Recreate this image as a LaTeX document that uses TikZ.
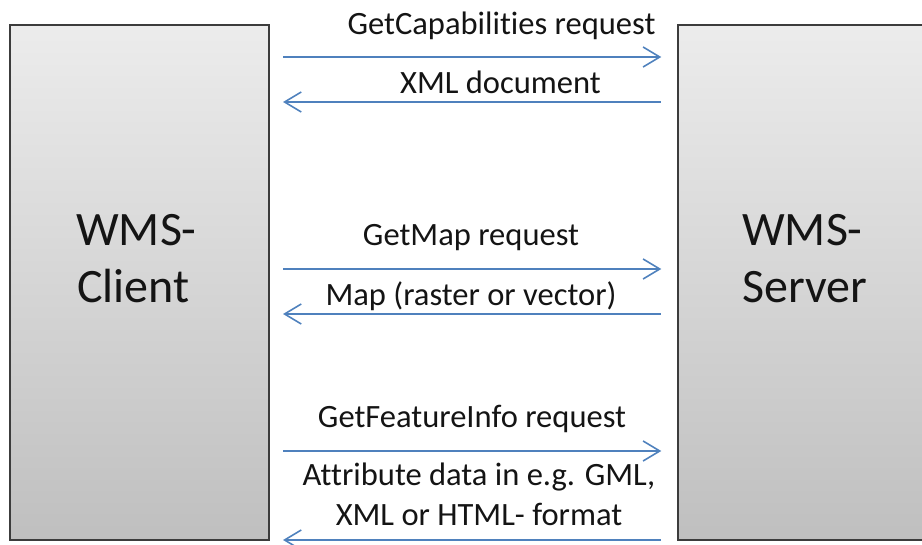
\documentclass[tikz,border=0pt]{standalone}
\usepackage{fontspec}
\setmainfont[Ligatures=NoCommon]{Carlito}
\usetikzlibrary{arrows.meta}
\definecolor{msgblue}{RGB}{79,129,189}
\definecolor{boxedge}{RGB}{60,60,60}
\definecolor{txtdark}{RGB}{20,20,20}

\begin{document}
\begin{tikzpicture}[x=0.75pt, y=-0.75pt,
    party/.style={draw=boxedge, line width=1.3pt, top color=gray!15, bottom color=gray!50,
                  minimum width=194pt, minimum height=386pt, inner sep=0pt},
    bigtxt/.style={anchor=base west, inner sep=0pt, text=txtdark, font=\fontsize{36}{43}\selectfont},
    lbl/.style={anchor=base, inner sep=0pt, text=txtdark, font=\fontsize{24.4}{29}\selectfont},
    msg/.style={draw=msgblue, line width=1.2pt, shorten <=10pt, shorten >=12pt},
    req/.style={msg, -{Straight Barb[length=12.5pt, width=15pt]}},
    resp/.style={msg, {Straight Barb[length=12.5pt, width=15pt]}-}]
    \useasboundingbox (0,0) rectangle (922,544);
    \clip (0,0) rectangle (922,544);

    % the two parties
    \node[party] (client) at (139.5,282.5) {};
    \node[party] (server) at (807.5,282.5) {};
    \node[bigtxt] (clientA) at (76,245) {WMS-};
    \node[bigtxt] (clientB) at (77,302) {Client};
    \node[bigtxt] (serverA) at (742,245) {WMS-};
    \node[bigtxt] (serverB) at (742,302) {Server};

    % message rows
    \coordinate (r1) at (0,57);
    \coordinate (r2) at (0,102);
    \coordinate (r3) at (0,269);
    \coordinate (r4) at (0,314);
    \coordinate (r5) at (0,451);
    \coordinate (r6) at (0,540);

    \node[lbl] (capreq) at (501.5,34) {GetCapabilities request};
    \node[lbl] (capdoc) at (500.5,93) {XML document};
    \node[lbl] (mapreq) at (471,245) {GetMap request};
    \node[lbl] (mapres) at (471,305) {Map (raster or vector)};
    \node[lbl] (inforeq) at (472,427) {GetFeatureInfo request};
    \node[lbl] (inforesA) at (479,485) {Attribute data in e.g. GML,};
    \node[lbl] (inforesB) at (479,525) {XML or HTML- format};

    \draw[req]  (client.east |- r1) -- (server.west |- r1);
    \draw[resp] (client.east |- r2) -- (server.west |- r2);
    \draw[req]  (client.east |- r3) -- (server.west |- r3);
    \draw[resp] (client.east |- r4) -- (server.west |- r4);
    \draw[req]  (client.east |- r5) -- (server.west |- r5);
    \draw[resp] (client.east |- r6) -- (server.west |- r6);
\end{tikzpicture}
\end{document}
